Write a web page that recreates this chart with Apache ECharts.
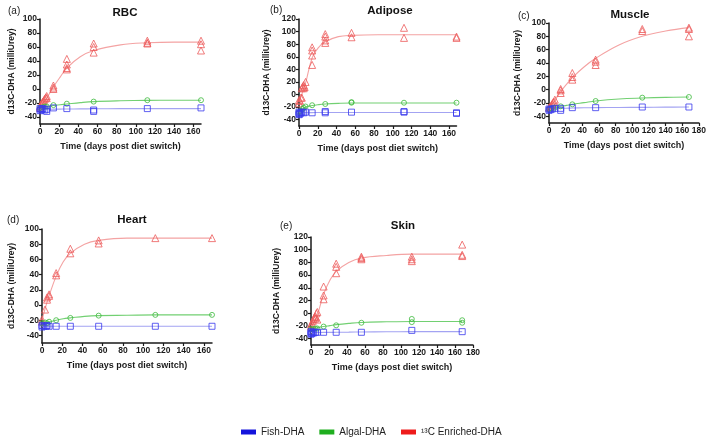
<!DOCTYPE html>
<html>
<head>
<meta charset="utf-8">
<script src="https://cdn.jsdelivr.net/npm/echarts@6/dist/echarts.min.js"></script>
<style>
  html, body { margin: 0; background: #fff; }
  #chart { width: 709px; height: 438px; }
</style>
</head>
<body>
<div id="chart"></div>
<script>
// panels, in order a..e
const tissues = ['RBC', 'Adipose', 'Muscle', 'Heart', 'Skin']
const panelTags = ['(a)', '(b)', '(c)', '(d)', '(e)']
const dietNames = ['¹³C Enriched-DHA', 'Algal-DHA', 'Fish-DHA']

const yTicks100 = [-40, -20, 0, 20, 40, 60, 80, 100]
const yTicks120 = [-40, -20, 0, 20, 40, 60, 80, 100, 120]
const xTicks160 = [0, 20, 40, 60, 80, 100, 120, 140, 160]
const xTicks180 = [0, 20, 40, 60, 80, 100, 120, 140, 160, 180]

// fitted curves, read at these days
const fitDays = [0, 3, 7, 14, 21, 28, 42, 56, 84, 112, 140, 168]

const rbcEnrichedFit = [-25, -20, -13, 3, 17, 30, 46, 55, 63, 66, 67, 67]
const rbcAlgalFit = [-26, -25.5, -25, -23.5, -22.5, -21.5, -19.5, -18, -16.8, -16.2, -16, -16]
const rbcFishFit = [-29, -29, -29, -28.8, -28.7, -28.6, -28.4, -28.3, -28.1, -28, -28, -28]
const adiposeEnrichedFit = [-12, 0, 18, 58, 75, 84, 92, 94, 95, 95, 95, 95]
const adiposeAlgalFit = [-28, -24, -20, -17.5, -16, -15, -14, -13.5, -13.5, -13.5, -13.5, -13.5]
const adiposeFishFit = [-29, -29, -28.8, -28.7, -28.6, -28.5, -28.5, -28.5, -28.5, -28.5, -28.5, -28.5]
const muscleEnrichedFit = [-28, -23, -16, -3, 8, 18, 34, 47, 67, 80, 88, 93]
const muscleAlgalFit = [-28, -27.6, -27, -25, -23.5, -22, -19.5, -17, -14, -12.5, -11.5, -11]
const muscleFishFit = [-29, -28.8, -28.5, -28, -27.8, -27.5, -27.2, -27, -26.7, -26.5, -26.2, -26]
const heartEnrichedFit = [-20, -5, 12, 38, 57, 68, 80, 85, 88, 88, 88, 88]
const heartAlgalFit = [-25, -24, -22.5, -20, -18, -17, -15, -14, -13.5, -13, -13, -13]
const heartFishFit = [-28, -28, -28, -28, -28, -28, -28, -28, -28, -28, -28, -28]
const skinEnrichedFit = [-20, -15, -3, 30, 52, 66, 80, 87, 91, 93, 93, 93]
const skinAlgalFit = [-25, -24.5, -23, -21, -19.5, -18, -16, -14.5, -13.5, -13, -13, -13]
const skinFishFit = [-30.5, -30.4, -30.3, -30.2, -30.1, -30, -29.8, -29.5, -29.2, -29, -29, -29]

// measured points [day, d13C]
const rbcEnriched = [[0, -25], [0, -27], [1, -22], [2, -20], [3, -18], [4, -16], [5, -14], [6, -12], [7, -10], [7, -13], [14, 0], [14, 2], [14, 5], [28, 43], [28, 35], [28, 30], [28, 28], [56, 65], [56, 60], [56, 52], [112, 69], [112, 66], [112, 65], [168, 69], [168, 64], [168, 55]]
const rbcAlgal = [[0, -27], [3, -26], [5, -25], [7, -25], [14, -23], [28, -21], [56, -18], [112, -16], [168, -16]]
const rbcFish = [[0, -28], [0, -31], [1, -30], [2, -29], [3, -28], [5, -30], [7, -29], [7, -32], [14, -27], [28, -28], [56, -30], [56, -32], [112, -28], [168, -27]]

const adiposeEnriched = [[0, -9], [0, -14], [1, -10], [2, -5], [3, 10], [3, -5], [4, 13], [5, 15], [5, 10], [6, 12], [7, 20], [14, 75], [14, 70], [14, 62], [14, 47], [28, 96], [28, 92], [28, 86], [28, 82], [56, 98], [56, 91], [112, 106], [112, 90], [168, 92], [168, 90]]
const adiposeAlgal = [[0, -28], [2, -26], [4, -23], [5, -21], [7, -19], [14, -17], [28, -15], [56, -12], [56, -13], [112, -13], [168, -13]]
const adiposeFish = [[0, -28], [0, -30], [0, -32], [1, -31], [2, -29], [3, -28], [5, -29], [7, -28], [14, -29], [28, -27], [28, -29], [56, -28], [112, -27], [112, -28], [168, -29], [168, -30]]

const muscleEnriched = [[0, -27], [1, -26], [2, -25], [3, -23], [4, -21], [5, -19], [6, -18], [7, -15], [14, 1], [14, -1], [14, -5], [28, 25], [28, 19], [28, 15], [56, 45], [56, 42], [56, 37], [112, 91], [112, 88], [168, 93], [168, 91], [168, 80]]
const muscleAlgal = [[0, -29], [3, -28], [7, -27], [14, -25], [28, -22], [56, -17], [112, -12], [168, -11]]
const muscleFish = [[0, -29], [0, -31], [2, -30], [4, -29], [7, -28], [14, -28], [14, -31], [28, -27], [56, -27], [112, -26], [168, -26]]

const heartEnriched = [[0, -19], [0, -22], [3, -6], [5, 7], [5, 10], [7, 12], [7, 14], [14, 42], [14, 39], [28, 74], [28, 68], [56, 85], [56, 81], [112, 88], [168, 88]]
const heartAlgal = [[0, -24], [3, -23], [5, -24], [7, -22], [14, -20], [28, -17], [56, -14], [112, -13], [168, -13]]
const heartFish = [[0, -27], [0, -29], [2, -28], [4, -28], [5, -27], [7, -28], [14, -28], [28, -28], [56, -28], [112, -28], [168, -28]]

const skinEnriched = [[0, -18], [0, -21], [1, -16], [2, -12], [3, -9], [4, -6], [5, -5], [5, -8], [6, 0], [7, 2], [7, -10], [14, 42], [14, 28], [14, 22], [28, 78], [28, 73], [28, 63], [56, 89], [56, 87], [56, 85], [112, 89], [112, 85], [112, 82], [168, 108], [168, 92], [168, 90]]
const skinAlgal = [[0, -25], [3, -25], [5, -24], [7, -24], [14, -21], [28, -19], [56, -15], [112, -9], [112, -14], [168, -11], [168, -15]]
const skinFish = [[0, -29], [0, -31], [0, -33], [1, -32], [2, -30], [3, -31], [5, -30], [7, -30], [14, -30], [28, -30], [56, -30], [112, -27], [168, -29]]

const points = [
    [rbcEnriched, rbcAlgal, rbcFish],
    [adiposeEnriched, adiposeAlgal, adiposeFish],
    [muscleEnriched, muscleAlgal, muscleFish],
    [heartEnriched, heartAlgal, heartFish],
    [skinEnriched, skinAlgal, skinFish],
]
const fits = [
    [rbcEnrichedFit, rbcAlgalFit, rbcFishFit],
    [adiposeEnrichedFit, adiposeAlgalFit, adiposeFishFit],
    [muscleEnrichedFit, muscleAlgalFit, muscleFishFit],
    [heartEnrichedFit, heartAlgalFit, heartFishFit],
    [skinEnrichedFit, skinAlgalFit, skinFishFit],
]

// layout (pixels)
const boxes = [
    { left: 40, top: 19, width: 161, height: 105, yMax: 100, xMax: 168, yGap: 24, title: [120, 2], tag: [3, 1] },
    { left: 299, top: 19, width: 157.5, height: 107, yMax: 120, xMax: 168, yGap: 28, title: [385, 0], tag: [265, 0] },
    { left: 549, top: 23, width: 152, height: 100, yMax: 100, xMax: 180, yGap: 27, title: [625, 4], tag: [513, 6] },
    { left: 42, top: 229, width: 170, height: 114, yMax: 100, xMax: 168, yGap: 26, title: [127, 209], tag: [2, 210] },
    { left: 311, top: 237, width: 162, height: 108, yMax: 120, xMax: 180, yGap: 30, title: [398, 215], tag: [275, 216] },
]

const markerShapes = ['triangle', 'circle', 'rect']
const markerSizes = [7, 5, 6]
const markerColors = ['#ec5a5a', '#3dba3d', '#3a3aee']
const fitColors = ['#f4a3a3', '#72d072', '#a3a3f2']
const legendColors = ['#ee1c1c', '#1fae1f', '#1414dc']

const font = 'Liberation Sans, Arial, sans-serif'
const axisColor = '#1a1a1a'

const chart = echarts.init(document.getElementById('chart'))

const grid = boxes.map(b => ({ left: b.left, top: b.top, width: b.width, height: b.height }))

const xAxis = boxes.map((b, i) => {
    const ticks = b.xMax === 180 ? xTicks180 : xTicks160
    return {
        gridIndex: i,
        type: 'value',
        min: 0,
        max: b.xMax,
        name: 'Time (days post diet switch)',
        nameLocation: 'middle',
        nameGap: 18,
        nameTextStyle: { fontFamily: font, fontSize: 9, fontWeight: 'bold', color: axisColor },
        axisLine: { onZero: false, lineStyle: { color: axisColor, width: 1.5 } },
        axisTick: { customValues: ticks, length: 3, lineStyle: { color: axisColor, width: 1.2 } },
        axisLabel: { customValues: ticks, margin: 3, fontFamily: font, fontSize: 8.5, fontWeight: 'bold', color: axisColor },
        splitLine: { show: false },
    }
})

const yAxis = boxes.map((b, i) => {
    const ticks = b.yMax === 120 ? yTicks120 : yTicks100
    return {
        gridIndex: i,
        type: 'value',
        min: -50,
        max: b.yMax,
        name: 'd13C-DHA (milliUrey)',
        nameLocation: 'middle',
        nameGap: b.yGap,
        nameTextStyle: { fontFamily: font, fontSize: 8.5, fontWeight: 'bold', color: axisColor },
        axisLine: { show: true, lineStyle: { color: axisColor, width: 1.5 } },
        axisTick: { customValues: ticks, length: 3, lineStyle: { color: axisColor, width: 1.2 } },
        axisLabel: { customValues: ticks, margin: 3, fontFamily: font, fontSize: 8.5, fontWeight: 'bold', color: axisColor },
        splitLine: { show: false },
    }
})

const series = []
boxes.forEach((b, i) => {
    fits[i].forEach((vals, d) => {
        series.push({
            name: dietNames[d],
            type: 'line',
            xAxisIndex: i,
            yAxisIndex: i,
            data: fitDays.map((t, k) => [t, vals[k]]),
            smooth: 0.4,
            showSymbol: false,
            silent: true,
            z: 1,
            lineStyle: { color: fitColors[d], width: 1.1 },
        })
    })
    // fish drawn last so the early cluster sits on top
    points[i].forEach((pts, d) => {
        series.push({
            name: dietNames[d],
            type: 'scatter',
            xAxisIndex: i,
            yAxisIndex: i,
            data: pts,
            symbol: markerShapes[d],
            symbolSize: markerSizes[d],
            z: 3,
            itemStyle: { color: 'rgba(255,255,255,0)', borderColor: markerColors[d], borderWidth: 1 },
        })
    })
})

const titles = []
boxes.forEach((b, i) => {
    titles.push({
        text: tissues[i],
        left: b.title[0],
        top: b.title[1],
        textAlign: 'center',
        textStyle: { fontFamily: font, fontSize: 11.5, fontWeight: 'bold', color: '#111' },
    })
    titles.push({
        text: panelTags[i],
        left: b.tag[0],
        top: b.tag[1],
        textStyle: { fontFamily: font, fontSize: 10, fontWeight: 'normal', color: '#222' },
    })
})

chart.setOption({
    animation: false,
    backgroundColor: '#fff',
    title: titles,
    grid,
    xAxis,
    yAxis,
    legend: {
        left: 236,
        top: 422,
        itemWidth: 15,
        itemHeight: 5,
        itemGap: 15,
        icon: 'rect',
        selectedMode: false,
        textStyle: { fontFamily: font, fontSize: 10, color: '#222' },
        data: [
            { name: dietNames[2], itemStyle: { color: legendColors[2], borderWidth: 0 } },
            { name: dietNames[1], itemStyle: { color: legendColors[1], borderWidth: 0 } },
            { name: dietNames[0], itemStyle: { color: legendColors[0], borderWidth: 0 } },
        ],
    },
    series,
})
</script>
</body>
</html>
